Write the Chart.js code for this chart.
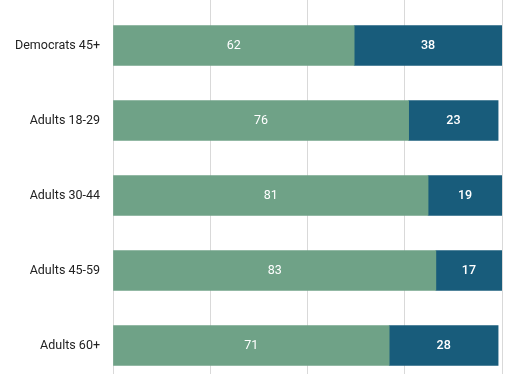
<!DOCTYPE html>
<html>
<head>
<meta charset="utf-8">
<script src="https://cdn.jsdelivr.net/npm/chart.js@4/dist/chart.umd.min.js"></script>
<style>
  html, body { margin: 0; padding: 0; background: #fff; overflow: hidden; }
  #wrap { position: relative; width: 530px; height: 383px; }
</style>
</head>
<body>
<div id="wrap"><canvas id="chart"></canvas></div>
<script>
// data
var categories = ['Democrats 45+', 'Adults 18-29', 'Adults 30-44', 'Adults 45-59', 'Adults 60+'];
var greenValues = [62, 76, 81, 83, 71];
var blueValues = [38, 23, 19, 17, 28];
var xTicks = [0, 25, 50, 75, 100];

var GREEN = '#6fa287';
var BLUE = '#185c7b';

// draws the value in the middle of each bar segment
var barLabels = {
    id: 'barLabels',
    afterDatasetsDraw: function (chart) {
        var ctx = chart.ctx;
        ctx.save();
        ctx.textAlign = 'center';
        ctx.textBaseline = 'middle';
        ctx.fillStyle = '#ffffff';
        chart.data.datasets.forEach(function (ds, i) {
            var meta = chart.getDatasetMeta(i);
            ctx.font = (i === 1 ? '500 ' : '400 ') + '12.5px Roboto';
            meta.data.forEach(function (bar, j) {
                var p = bar.getProps(['x', 'y', 'base'], true);
                ctx.fillText(String(ds.data[j]), (p.x + p.base) / 2, p.y);
            });
        });
        ctx.restore();
    }
};

new Chart(document.getElementById('chart'), {
    type: 'bar',
    data: {
        labels: categories,
        datasets: [
            { label: 'a', data: greenValues, backgroundColor: GREEN, barThickness: 40 },
            { label: 'b', data: blueValues, backgroundColor: BLUE, barThickness: 40 }
        ]
    },
    options: {
        indexAxis: 'y',
        responsive: true,
        maintainAspectRatio: false,
        animation: false,
        layout: { padding: { left: 0, right: 28, top: 0, bottom: 0 } },
        plugins: {
            legend: { display: false },
            tooltip: { enabled: false }
        },
        scales: {
            x: {
                position: 'top',
                stacked: true,
                min: 0,
                max: 100,
                afterBuildTicks: function (scale) {
                    scale.ticks = xTicks.map(function (v) { return { value: v }; });
                },
                ticks: { display: false },
                grid: { color: '#d9d9d9', lineWidth: 1, drawTicks: true, tickLength: 8 },
                border: { display: false }
            },
            y: {
                stacked: true,
                afterFit: function (scale) {
                    scale.width = 113;
                    scale.paddingTop = 0;
                    scale.paddingBottom = 0;
                },
                ticks: {
                    color: '#222222',
                    padding: 13,
                    font: { family: 'Roboto', size: 12.5 }
                },
                grid: { display: false, drawTicks: false },
                border: { display: false }
            }
        }
    },
    plugins: [barLabels]
});
</script>
</body>
</html>
